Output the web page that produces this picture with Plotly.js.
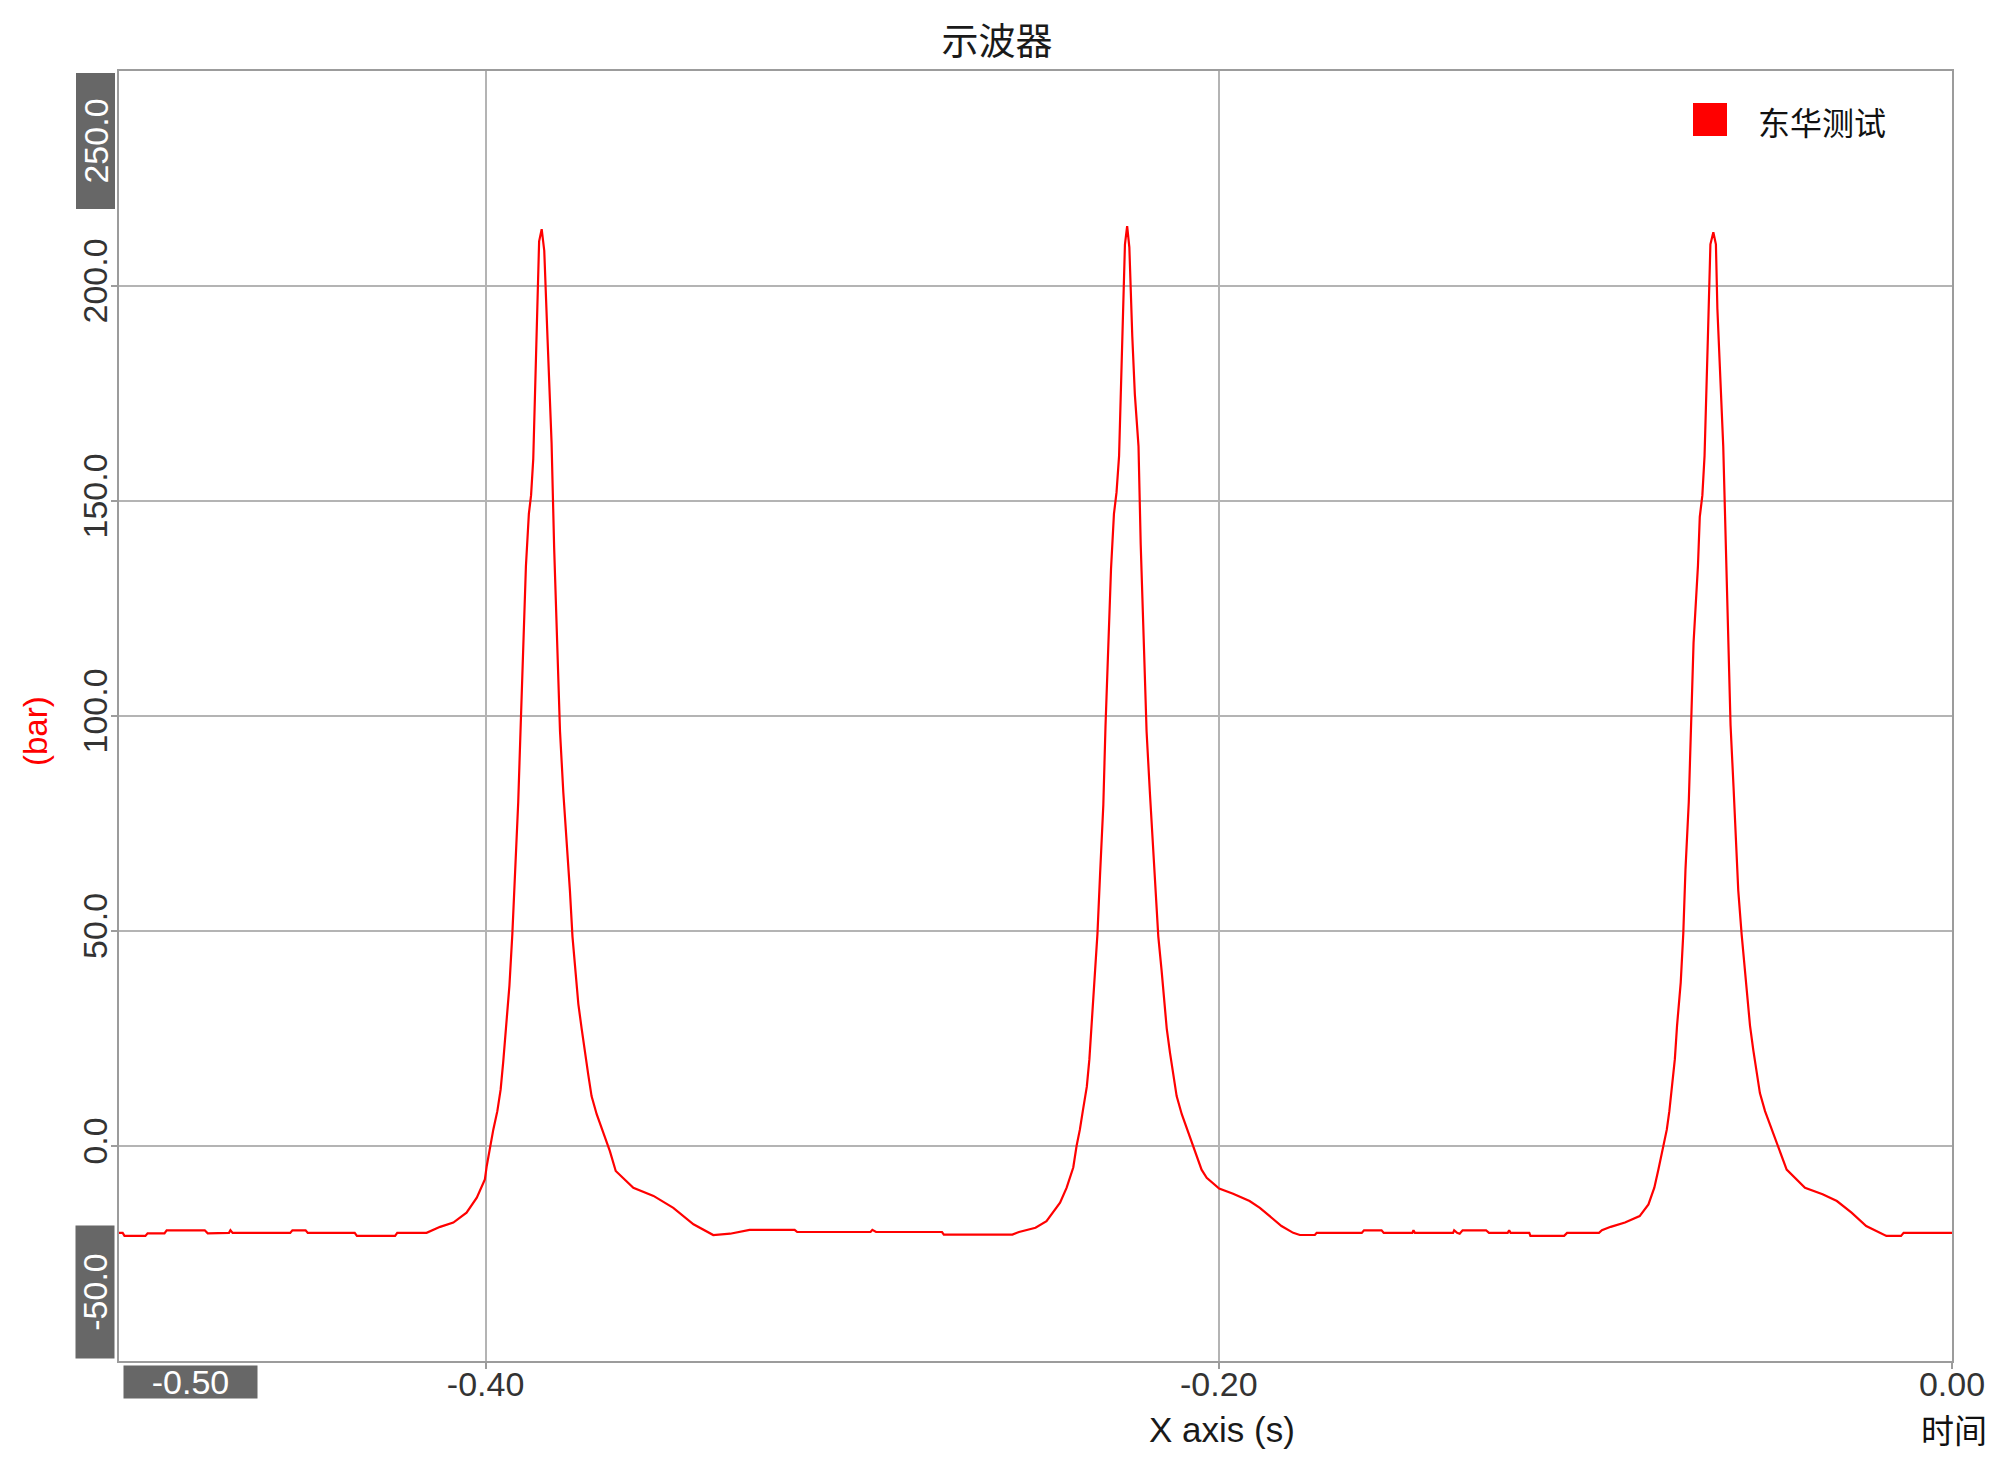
<!DOCTYPE html>
<html>
<head>
<meta charset="utf-8">
<script src="https://cdn.plot.ly/plotly-3.0.1.min.js"></script>
<style>
html, body { margin: 0; padding: 0; background: #ffffff; }
#chart { width: 2010px; height: 1467px; }
</style>
</head>
<body>
<div id="chart"></div>
<script>
// ---- Data (time in s, pressure in bar) ----
const time = [
  -0.5000, -0.4990, -0.4985, -0.4928, -0.4922, -0.4876, -0.4870, -0.4766, -0.4758, -0.4700,
  -0.4696, -0.4690, -0.4533, -0.4527, -0.4491, -0.4485, -0.4357, -0.4351, -0.4247, -0.4241,
  -0.4161, -0.4124, -0.4088, -0.4052, -0.4024, -0.4002, -0.3997,
  -0.3988, -0.3979, -0.3968, -0.3959, -0.3952, -0.3944, -0.3935, -0.3927, -0.3920, -0.3911,
  -0.3904, -0.3897, -0.3890, -0.3882, -0.3876, -0.3870, -0.3861, -0.3854, -0.3847, -0.3840,
  -0.3831, -0.3826, -0.3820, -0.3813, -0.3804, -0.3797, -0.3788, -0.3777, -0.3770, -0.3763,
  -0.3754, -0.3747, -0.3738, -0.3729, -0.3720, -0.3711, -0.3697, -0.3679, -0.3661, -0.3645,
  -0.3597, -0.3542, -0.3488, -0.3433, -0.3379, -0.3333, -0.3280, -0.3157, -0.3150, -0.2950,
  -0.2945, -0.2935, -0.2755, -0.2750, -0.2563, -0.2545, -0.2500, -0.2470,
  -0.2433, -0.2415, -0.2397, -0.2388, -0.2379, -0.2371, -0.2360, -0.2353, -0.2347, -0.2340,
  -0.2331, -0.2324, -0.2315, -0.2309, -0.2301, -0.2294, -0.2286, -0.2279, -0.2272, -0.2264,
  -0.2256, -0.2250, -0.2244, -0.2236, -0.2229, -0.2219, -0.2213, -0.2204, -0.2197, -0.2188,
  -0.2179, -0.2171, -0.2165, -0.2156, -0.2149, -0.2142, -0.2133, -0.2124, -0.2115, -0.2101,
  -0.2083, -0.2065, -0.2047, -0.2033, -0.1999, -0.1961, -0.1916, -0.1888, -0.1861, -0.1829,
  -0.1797, -0.1779, -0.1738, -0.1733, -0.1610, -0.1604, -0.1556, -0.1550, -0.1472, -0.1469,
  -0.1465, -0.1361, -0.1358, -0.1350, -0.1343, -0.1335, -0.1271, -0.1263, -0.1212, -0.1208,
  -0.1204, -0.1153, -0.1150, -0.1058, -0.1050, -0.0963, -0.0955, -0.0931, -0.0892, -0.0852,
  -0.0828, -0.0812, -0.0801, -0.0787, -0.0778, -0.0771, -0.0765, -0.0756, -0.0750, -0.0740,
  -0.0733, -0.0727, -0.0718, -0.0711, -0.0705, -0.0693, -0.0688, -0.0681, -0.0675, -0.0666,
  -0.0659, -0.0651, -0.0644, -0.0640, -0.0633, -0.0624, -0.0617, -0.0610, -0.0604, -0.0596,
  -0.0589, -0.0583, -0.0574, -0.0565, -0.0558, -0.0551, -0.0542, -0.0534, -0.0524, -0.0510,
  -0.0492, -0.0474, -0.0451, -0.0401, -0.0353, -0.0314, -0.0274, -0.0234, -0.0194, -0.0179,
  -0.0139, -0.0132, 0.0000
];
const pressure = [
  -20.2, -20.2, -20.9, -20.9, -20.3, -20.3, -19.6, -19.6, -20.3, -20.2,
  -19.6, -20.2, -20.2, -19.6, -19.6, -20.2, -20.2, -20.9, -20.9, -20.2,
  -20.2, -18.8, -17.8, -15.5, -12.0, -7.8, -4.7,
  0.0, 3.8, 8.1, 13.1, 19.5, 28.0, 37.3, 49.4, 62.9, 80.0,
  98.5, 117.0, 134.9, 147.0, 151.3, 159.8, 188.3, 210.4, 213.2, 208.2,
  187.6, 176.2, 163.4, 139.1, 115.6, 96.4, 82.2, 69.3, 59.4, 48.7,
  40.1, 33.0, 27.3, 21.6, 16.6, 11.6, 7.4, 3.1, -1.2, -5.8,
  -9.7, -11.6, -14.4, -18.2, -20.7, -20.4, -19.5, -19.5, -20.0, -20.0,
  -19.5, -20.0, -20.0, -20.6, -20.6, -20.0, -19.0, -17.5,
  -13.2, -9.7, -5.0, 0.0, 3.8, 8.1, 13.8, 20.2, 28.0, 37.3,
  49.4, 62.9, 79.3, 97.8, 116.3, 134.2, 147.0, 152.0, 160.5, 186.2,
  209.7, 213.9, 209.0, 188.3, 174.8, 162.7, 139.9, 115.6, 96.4, 82.2,
  69.3, 59.4, 48.7, 40.8, 33.0, 27.3, 21.6, 16.6, 11.6, 7.4,
  3.1, -1.2, -5.5, -7.4, -9.9, -11.1, -12.8, -14.4, -16.3, -18.6,
  -20.2, -20.7, -20.7, -20.2, -20.2, -19.6, -19.6, -20.2, -20.2, -19.6,
  -20.2, -20.2, -19.6, -20.2, -20.4, -19.6, -19.6, -20.2, -20.2, -19.6,
  -20.2, -20.2, -20.9, -20.9, -20.2, -20.2, -19.6, -18.8, -17.8, -16.3,
  -13.6, -9.7, -5.5, 0.0, 3.8, 8.1, 13.1, 20.2, 28.0, 38.0,
  49.4, 64.3, 80.0, 98.5, 117.0, 134.9, 146.3, 151.3, 160.5, 187.6,
  209.7, 212.5, 209.7, 194.7, 179.7, 162.7, 139.9, 116.3, 97.8, 83.6,
  70.0, 59.4, 49.4, 40.8, 33.7, 28.0, 22.3, 18.0, 12.3, 8.1,
  3.8, 0.0, -5.5, -9.7, -11.2, -12.8, -15.5, -18.6, -20.4, -20.9,
  -20.9, -20.2, -20.2
];

const seriesName = '东华测试';
const yTickVals = [0, 50, 100, 150, 200];
const yTickText = ['0.0', '50.0', '100.0', '150.0', '200.0'];
const xTickVals = [-0.4, -0.2, 0.0];
const xTickText = ['-0.40', '-0.20', '0.00'];
const yMaxLabel = '250.0';
const yMinLabel = '-50.0';
const xMinLabel = '-0.50';
const chartTitle = '示波器';
const xTitle = 'X axis (s)';
const xUnitLabel = '时间';
const yTitle = '(bar)';

// ---- Styling ----
const latin = "'Liberation Sans', Arial, sans-serif";
const cjk = "'Noto Sans CJK SC', 'Noto Sans', sans-serif";
const gridC = '#b4b4b4';
const lineC = '#9c9c9c';
const boxC = '#676767';

const trace = {
  x: time,
  y: pressure,
  type: 'scatter',
  mode: 'lines',
  name: seriesName,
  line: { color: '#ff0000', width: 2.2 },
  showlegend: false,
  hoverinfo: 'skip'
};

const layout = {
  width: 2010,
  height: 1467,
  margin: { l: 119, r: 58, t: 71, b: 106, pad: 0 },
  paper_bgcolor: '#ffffff',
  plot_bgcolor: '#ffffff',
  showlegend: false,
  title: {
    text: chartTitle,
    font: { family: cjk, size: 37, color: '#1a1a1a' },
    x: 997 / 2010, xref: 'container', xanchor: 'center',
    y: 1 - 42 / 1467, yref: 'container', yanchor: 'middle'
  },
  xaxis: {
    range: [-0.5, 0.0],
    tickvals: xTickVals,
    ticktext: xTickText,
    showgrid: true, gridcolor: gridC, gridwidth: 2,
    zeroline: false,
    showline: true, linecolor: lineC, linewidth: 2, mirror: true,
    ticks: 'outside', ticklen: 6, tickwidth: 2, tickcolor: lineC,
    ticklabelstandoff: -14,
    tickfont: { family: latin, size: 34, color: '#333333' },
    fixedrange: true
  },
  yaxis: {
    range: [-50, 250],
    tickvals: yTickVals,
    ticktext: yTickText,
    tickangle: -90,
    showgrid: true, gridcolor: gridC, gridwidth: 2,
    zeroline: false,
    showline: true, linecolor: lineC, linewidth: 2, mirror: true,
    ticks: 'outside', ticklen: 6, tickwidth: 2, tickcolor: lineC,
    ticklabelstandoff: -10,
    tickfont: { family: latin, size: 34, color: '#333333' },
    fixedrange: true
  },
  shapes: [
    { type: 'rect', xref: 'paper', yref: 'paper',
      x0: (1693 - 119) / 1833, x1: (1727 - 119) / 1833,
      y0: (1361 - 136) / 1290, y1: (1361 - 103) / 1290,
      fillcolor: '#ff0000', line: { width: 0 } }
  ],
  annotations: [
    { text: seriesName, xref: 'paper', yref: 'paper',
      x: (1756 - 119) / 1833, y: (1361 - 121) / 1290,
      xanchor: 'left', yanchor: 'middle', showarrow: false,
      font: { family: cjk, size: 32, color: '#111111' } },
    { text: yMaxLabel, xref: 'paper', yref: 'paper', x: 0, y: 1,
      xanchor: 'right', yanchor: 'top', xshift: -4, yshift: -2,
      textangle: -90, width: 135, height: 38, borderpad: 0, align: 'center',
      bgcolor: boxC, showarrow: false,
      font: { family: latin, size: 34, color: '#ffffff' } },
    { text: yMinLabel, xref: 'paper', yref: 'paper', x: 0, y: 0,
      xanchor: 'right', yanchor: 'bottom', xshift: -4, yshift: 2,
      textangle: -90, width: 132, height: 38, borderpad: 0, align: 'center',
      bgcolor: boxC, showarrow: false,
      font: { family: latin, size: 34, color: '#ffffff' } },
    { text: xMinLabel, xref: 'paper', yref: 'paper', x: 0, y: 0,
      xanchor: 'left', yanchor: 'top', xshift: 4, yshift: -4,
      width: 133, height: 32, borderpad: 0, align: 'center',
      bgcolor: boxC, showarrow: false,
      font: { family: latin, size: 34, color: '#ffffff' } },
    { text: yTitle, xref: 'paper', yref: 'paper',
      x: (35 - 119) / 1833, y: (1361 - 731) / 1290,
      xanchor: 'center', yanchor: 'middle', textangle: -90, showarrow: false,
      font: { family: latin, size: 33, color: '#ff0000' } },
    { text: xTitle, xref: 'paper', yref: 'paper',
      x: (1222 - 119) / 1833, y: (1361 - 1429) / 1290,
      xanchor: 'center', yanchor: 'middle', showarrow: false,
      font: { family: latin, size: 35, color: '#1a1a1a' } },
    { text: xUnitLabel, xref: 'paper', yref: 'paper',
      x: (1954 - 119) / 1833, y: (1361 - 1429) / 1290,
      xanchor: 'center', yanchor: 'middle', showarrow: false,
      font: { family: cjk, size: 33, color: '#111111' } }
  ]
};

Plotly.newPlot('chart', [trace], layout, { displayModeBar: false, staticPlot: true });
</script>
</body>
</html>
